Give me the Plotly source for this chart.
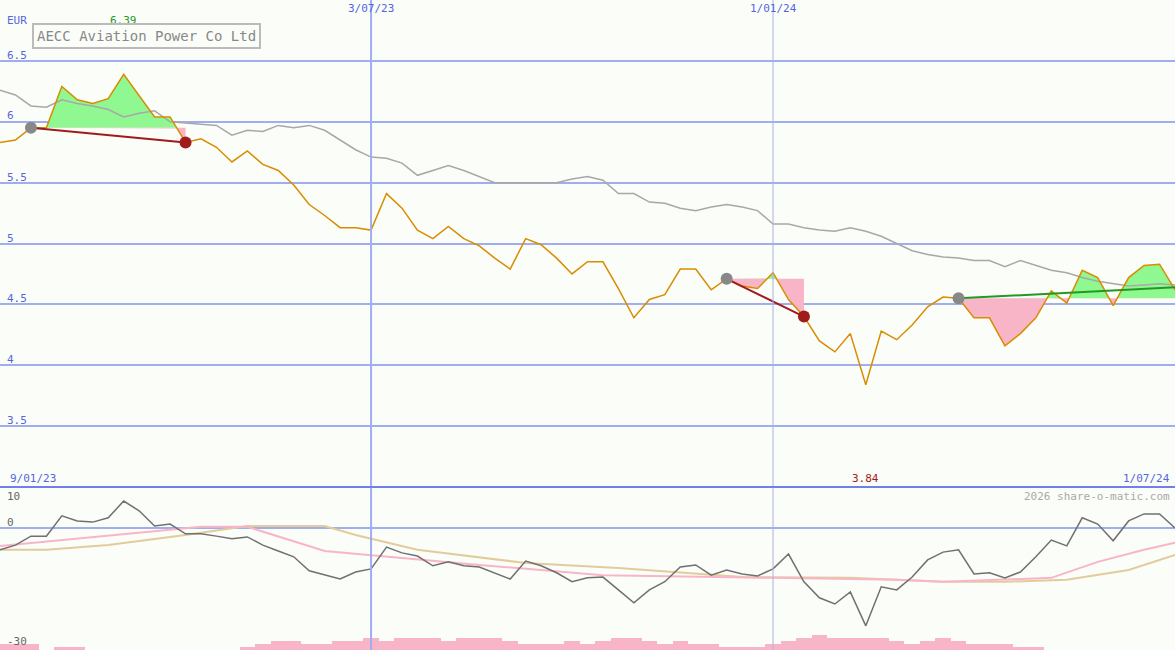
import numpy as np, pandas as pd
import plotly.graph_objects as go

start = "2023-01-16"
price = [5.83,5.85,5.95,5.95,6.29,6.18,6.15,6.19,6.39,6.22,6.04,6.04,5.83,5.86,5.79,5.67,5.76,5.65,5.60,5.48,
         5.32,5.23,5.13,5.13,5.11,5.41,5.29,5.11,5.04,5.14,5.04,4.98,4.88,4.79,5.04,4.99,4.88,4.75,4.85,4.85,
         4.63,4.39,4.54,4.58,4.79,4.79,4.62,4.71,4.65,4.63,4.76,4.54,4.40,4.20,4.11,4.26,3.84,4.28,4.21,4.33,
         4.48,4.56,4.55,4.39,4.39,4.16,4.26,4.39,4.61,4.51,4.78,4.72,4.49,4.72,4.82,4.83,4.62]
avg = [6.26,6.22,6.13,6.12,6.18,6.15,6.13,6.10,6.04,6.07,6.09,6.00,5.99,5.98,5.97,5.89,5.93,5.92,5.97,5.95,
       5.97,5.93,5.85,5.77,5.71,5.70,5.66,5.56,5.60,5.64,5.60,5.55,5.50,5.50,5.50,5.50,5.50,5.53,5.55,5.52,
       5.41,5.41,5.34,5.33,5.29,5.27,5.30,5.32,5.30,5.27,5.16,5.16,5.13,5.11,5.10,5.13,5.10,5.06,5.00,4.94,
       4.91,4.89,4.88,4.86,4.86,4.81,4.86,4.82,4.78,4.76,4.72,4.69,4.67,4.65,4.66,4.67,4.66]
momentum = [-5.6,-4.4,-2.1,-2.1,3.1,1.8,1.5,2.6,6.9,4.4,0.5,1.0,-1.5,-1.5,-2.1,-2.8,-2.3,-4.4,-5.9,-7.4,-11.0,
            -12.1,-13.1,-11.3,-10.5,-4.9,-6.4,-7.2,-9.7,-8.7,-9.7,-10.0,-11.5,-13.1,-8.5,-9.7,-11.5,-13.8,-12.8,-12.6,-15.9,
            -19.2,-15.9,-13.8,-10.0,-9.5,-12.1,-10.8,-11.8,-12.3,-10.5,-6.7,-13.8,-17.9,-19.5,-16.4,-25.1,-15.1,-15.9,-12.6,-8.2,
            -6.2,-5.6,-11.8,-11.5,-12.8,-11.3,-7.4,-3.1,-4.6,2.6,1.0,-3.3,1.8,3.6,3.6,0.0]
pink_idx = [0,13,16,21,31,39,50,58,61,68,71,74,76]
pink_val = [-4.6,0.3,0.3,-5.9,-9.5,-12.1,-12.8,-13.3,-13.8,-12.8,-8.7,-5.6,-3.8]
tan_idx = [0,3,7,12,16,21,23,27,34,40,48,55,61,65,69,73,76]
tan_val = [-5.6,-5.6,-4.4,-1.8,0.5,0.5,-1.8,-5.6,-9.0,-10.3,-12.6,-12.8,-13.8,-13.8,-13.3,-10.8,-6.9]
volume = [6,6,6,0,3,3,0,0,0,0,0,0,0,0,0,0,3,6,9,9,6,6,9,9,12,9,12,12,12,9,12,12,12,9,6,6,6,9,6,9,
          12,12,9,6,9,6,6,3,3,3,6,9,12,15,12,12,12,12,9,6,9,12,9,6,6,6,3,3,0,0,0,0,0,0,0,0,0]
trades = [(2, 12, 5.95, 5.83, "closed"), (47, 52, 4.71, 4.40, "closed"), (62, 76, 4.55, 4.64, "open")]

n = len(price)
momentum = momentum[:n]
dates = pd.date_range(start, periods=n, freq="7D")
di = lambda i: dates[0] + pd.Timedelta(days=7 * i)

fig = go.Figure()
GREEN, PINK = "#90f890", "#f9b5c8"
for (a, b, ein, eout, kind) in trades:
    xs = np.linspace(a, b, (b - a) * 20 + 1)
    ps = np.interp(xs, np.arange(n), price)
    xd = [di(x) for x in xs]
    lvl = [ein] * len(xs)
    fig.add_trace(go.Scatter(x=xd, y=lvl, mode="lines", line=dict(width=0), hoverinfo="skip", showlegend=False))
    fig.add_trace(go.Scatter(x=xd, y=np.maximum(ps, ein), mode="lines", line=dict(width=0), fill="tonexty",
                             fillcolor=GREEN, hoverinfo="skip", showlegend=False))
    fig.add_trace(go.Scatter(x=xd, y=lvl, mode="lines", line=dict(width=0), hoverinfo="skip", showlegend=False))
    fig.add_trace(go.Scatter(x=xd, y=np.minimum(ps, ein), mode="lines", line=dict(width=0), fill="tonexty",
                             fillcolor=PINK, hoverinfo="skip", showlegend=False))

fig.add_trace(go.Scatter(x=dates, y=avg, mode="lines", line=dict(color="#a8a8a8", width=1.5), showlegend=False))
fig.add_trace(go.Scatter(x=dates, y=price, mode="lines", line=dict(color="#d98c00", width=1.5), showlegend=False))

for (a, b, ein, eout, kind) in trades:
    col = "#a01c1c" if kind == "closed" else "#229922"
    fig.add_trace(go.Scatter(x=[di(a), di(b)], y=[ein, eout], mode="lines", line=dict(color=col, width=2),
                             showlegend=False))
    fig.add_trace(go.Scatter(x=[di(a)], y=[ein], mode="markers", marker=dict(color="#888888", size=12),
                             showlegend=False))
    if kind == "closed":
        fig.add_trace(go.Scatter(x=[di(b)], y=[eout], mode="markers", marker=dict(color="#a01c1c", size=12),
                                 showlegend=False))

fig.add_trace(go.Bar(x=dates, y=volume, marker=dict(color=PINK, line=dict(width=0)), width=7 * 86400000,
                     yaxis="y3", showlegend=False))
fig.add_trace(go.Scatter(x=[di(i) for i in tan_idx], y=tan_val, mode="lines", line=dict(color="#e2cc9c", width=2),
                         yaxis="y2", showlegend=False))
fig.add_trace(go.Scatter(x=[di(i) for i in pink_idx], y=pink_val, mode="lines", line=dict(color="#f9b5c8", width=2),
                         yaxis="y2", showlegend=False))
fig.add_trace(go.Scatter(x=dates, y=momentum, mode="lines", line=dict(color="#707070", width=1.5),
                         yaxis="y2", showlegend=False))

split = 163 / 650
GRID = "#a0aef0"
fig.update_layout(
    width=1175, height=650, margin=dict(l=0, r=0, t=0, b=0),
    paper_bgcolor="#fbfdf9", plot_bgcolor="#fbfdf9",
    font=dict(family="DejaVu Sans Mono", size=11, color="#5566dd"),
    xaxis=dict(range=[dates[0], dates[-1]], showgrid=False, showticklabels=False, zeroline=False),
    yaxis=dict(domain=[split, 1], range=[3.0, 7.0], tickvals=[3.5, 4, 4.5, 5, 5.5, 6, 6.5],
               showgrid=True, gridcolor=GRID, gridwidth=2, showticklabels=False, zeroline=False),
    yaxis2=dict(domain=[0, split], range=[-31.3, 10.5], tickvals=[0], showgrid=True, gridcolor=GRID,
                gridwidth=2, showticklabels=False, zeroline=False),
    yaxis3=dict(domain=[0, split], overlaying="y2", range=[0, 163], visible=False),
    bargap=0,
)
for d, w, c in [("2023-07-03", 2, GRID), ("2024-01-01", 1, "#a8b4e0")]:
    fig.add_shape(type="line", xref="x", yref="paper", x0=d, x1=d, y0=0, y1=1, line=dict(color=c, width=w))
fig.add_shape(type="line", xref="paper", yref="paper", x0=0, x1=1, y0=split, y1=split,
              line=dict(color="#7080e8", width=2))

def ann(x, y, t, color="#5566dd", xanchor="left", xref="paper", size=11):
    fig.add_annotation(x=x, y=y, xref=xref, yref="paper", text=t, showarrow=False, xanchor=xanchor,
                       yanchor="middle", font=dict(color=color, size=size))

Y = lambda py: 1 - py / 650
for v, py in [(6.5, 55), (6, 116), (5.5, 177), (5, 238), (4.5, 298), (4, 359), (3.5, 420)]:
    ann(5 / 1175, Y(py), f"{v:g}")
ann(5 / 1175, Y(20), "EUR")
ann(di(8), Y(20), "6.39", color="#229922", xanchor="center", xref="x")
ann(di(56), Y(478), "3.84", color="#a01c1c", xanchor="center", xref="x")
ann("2023-07-03", Y(9), "3/07/23", xanchor="center", xref="x")
ann("2024-01-01", Y(9), "1/01/24", xanchor="center", xref="x")
ann(8 / 1175, Y(478), "9/01/23")
ann(1 - 3 / 1175, Y(478), "1/07/24", xanchor="right")
ann(1 - 3 / 1175, Y(496), "2026 share-o-matic.com", color="#aaaaaa", xanchor="right")
ann(5 / 1175, Y(496), "10", color="#666666")
ann(5 / 1175, Y(522), "0", color="#666666")
ann(5 / 1175, Y(641), "-30", color="#666666")
fig.add_annotation(x=32 / 1175, y=Y(36), xref="paper", yref="paper", text="AECC Aviation Power Co Ltd",
                   showarrow=False, xanchor="left", yanchor="middle", bordercolor="#bbbbbb", borderwidth=2,
                   borderpad=3, bgcolor="#fbfdf9", font=dict(color="#888888", size=14))

fig.write_html("out.html", config={"displayModeBar": False},
               post_script="document.body.style.margin='0';document.body.style.overflow='hidden';")
